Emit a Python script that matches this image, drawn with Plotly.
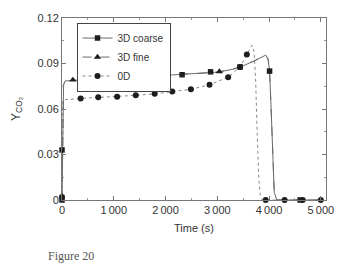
import plotly.graph_objects as go

# ---- data ----
coarse_t = [0, 10, 30, 60, 500, 1000, 1500, 2000, 2500, 3000, 3300, 3500, 3700, 3850, 3935, 3980, 4010, 4040, 4070, 4100, 4150, 5000]
coarse_y = [0, 0.033, 0.076, 0.0785, 0.0795, 0.0805, 0.0815, 0.0822, 0.0832, 0.0843, 0.0862, 0.0885, 0.0915, 0.094, 0.0955, 0.093, 0.085, 0.06, 0.025, 0.005, 0, 0]
coarse_mt = [0, 0, 570, 1160, 1750, 2320, 2870, 3440, 4010, 4600]
coarse_my = [0.033, 0, 0.0795, 0.081, 0.082, 0.0826, 0.0845, 0.0877, 0.085, 0]

fine_t = [0, 10, 30, 60, 500, 1000, 1500, 2000, 2500, 3000, 3300, 3500, 3700, 3850, 3935, 3980, 4010, 4040, 4070, 4100, 4150, 5000]
fine_y = [0, 0.033, 0.076, 0.0785, 0.0795, 0.0805, 0.0815, 0.0822, 0.0832, 0.0843, 0.0862, 0.0885, 0.0915, 0.094, 0.0955, 0.093, 0.085, 0.06, 0.025, 0.005, 0, 0]
fine_mt = [210, 456, 684, 3040]
fine_my = [0.0792, 0.0795, 0.0797, 0.0847]

od_t = [0, 20, 360, 700, 1065, 1425, 1790, 2130, 2490, 2850, 3210, 3440, 3570, 3670, 3710, 3740, 3770, 3800, 3830, 3870, 5000]
od_y = [0, 0.066, 0.067, 0.0677, 0.068, 0.069, 0.070, 0.0716, 0.073, 0.076, 0.081, 0.0877, 0.096, 0.102, 0.098, 0.08, 0.045, 0.015, 0.003, 0, 0]
od_mt = [0, 360, 700, 1065, 1425, 1790, 2130, 2490, 2850, 3210, 3440, 3570, 3935, 4300, 4650, 5000]
od_my = [0.002, 0.067, 0.0677, 0.068, 0.069, 0.070, 0.0716, 0.073, 0.076, 0.081, 0.0877, 0.096, 0, 0, 0, 0]

x_ticks = [0, 1000, 2000, 3000, 4000, 5000]
x_labels = ["0", "1\u2009000", "2\u2009000", "3\u2009000", "4\u2009000", "5\u2009000"]
y_ticks = [0, 0.03, 0.06, 0.09, 0.12]
y_labels = ["0", "0.03", "0.06", "0.09", "0.12"]

LINE = "#6a6a6a"
MK = "#1e1e1e"
FONT = "Liberation Sans, Arial"

fig = go.Figure()
fig.add_trace(go.Scatter(x=od_t, y=od_y, mode="lines", line=dict(color="#888", width=1, dash="dot"), showlegend=False))
fig.add_trace(go.Scatter(x=fine_t, y=fine_y, mode="lines", line=dict(color=LINE, width=1, dash="dash"), showlegend=False))
fig.add_trace(go.Scatter(x=coarse_t, y=coarse_y, mode="lines", line=dict(color=LINE, width=1), showlegend=False))

fig.add_trace(go.Scatter(x=coarse_mt, y=coarse_my, mode="markers", marker=dict(symbol="square", size=5.5, color=MK), showlegend=False, cliponaxis=False))
fig.add_trace(go.Scatter(x=fine_mt, y=fine_my, mode="markers", marker=dict(symbol="triangle-up", size=6.5, color=MK), showlegend=False, cliponaxis=False))
fig.add_trace(go.Scatter(x=od_mt, y=od_my, mode="markers", marker=dict(symbol="circle", size=6, color=MK), showlegend=False, cliponaxis=False))

# legend entries
fig.add_trace(go.Scatter(x=[None], y=[None], mode="lines+markers", name="3D coarse",
                         line=dict(color=LINE, width=1), marker=dict(symbol="square", size=5.5, color=MK)))
fig.add_trace(go.Scatter(x=[None], y=[None], mode="lines+markers", name="3D fine",
                         line=dict(color=LINE, width=1, dash="dash"), marker=dict(symbol="triangle-up", size=6.5, color=MK)))
fig.add_trace(go.Scatter(x=[None], y=[None], mode="lines+markers", name="0D",
                         line=dict(color="#888", width=1, dash="dot"), marker=dict(symbol="circle", size=6, color=MK)))

axis_common = dict(showline=True, linecolor="#777", linewidth=1, mirror="ticks", ticks="inside",
                   ticklen=4, tickcolor="#777", showgrid=False, zeroline=False,
                   tickfont=dict(family=FONT, size=11, color="#333"))

fig.update_xaxes(range=[0, 5100], tickvals=x_ticks, ticktext=x_labels,
                 minor=dict(dtick=500, ticks="inside", ticklen=2, tickcolor="#999"),
                 title=dict(text="Time (s)", font=dict(family=FONT, size=11, color="#333"), standoff=9),
                 **axis_common)
fig.update_yaxes(range=[0, 0.12], tickvals=y_ticks, ticktext=y_labels,
                 minor=dict(dtick=0.015, ticks="inside", ticklen=2, tickcolor="#999"),
                 title=dict(text="Y<sub>CO₂</sub>", font=dict(family=FONT, size=12, color="#333"), standoff=14),
                 **axis_common)

fig.update_layout(
    width=346, height=267,
    margin=dict(l=62, r=16, t=13, b=67),
    paper_bgcolor="white", plot_bgcolor="white",
    legend=dict(x=0.055, y=0.975, xanchor="left", yanchor="top", bgcolor="white",
                bordercolor="#444", borderwidth=1, tracegroupgap=0, itemwidth=30,
                font=dict(family=FONT, size=10, color="#333")),
    annotations=[dict(text="Figure 20", xref="paper", yref="paper", x=0.13, y=-0.31,
                      xanchor="right", yanchor="middle", showarrow=False,
                      font=dict(family="Liberation Serif, Times New Roman", size=12, color="#555"))],
)

fig.write_html("out.html")
